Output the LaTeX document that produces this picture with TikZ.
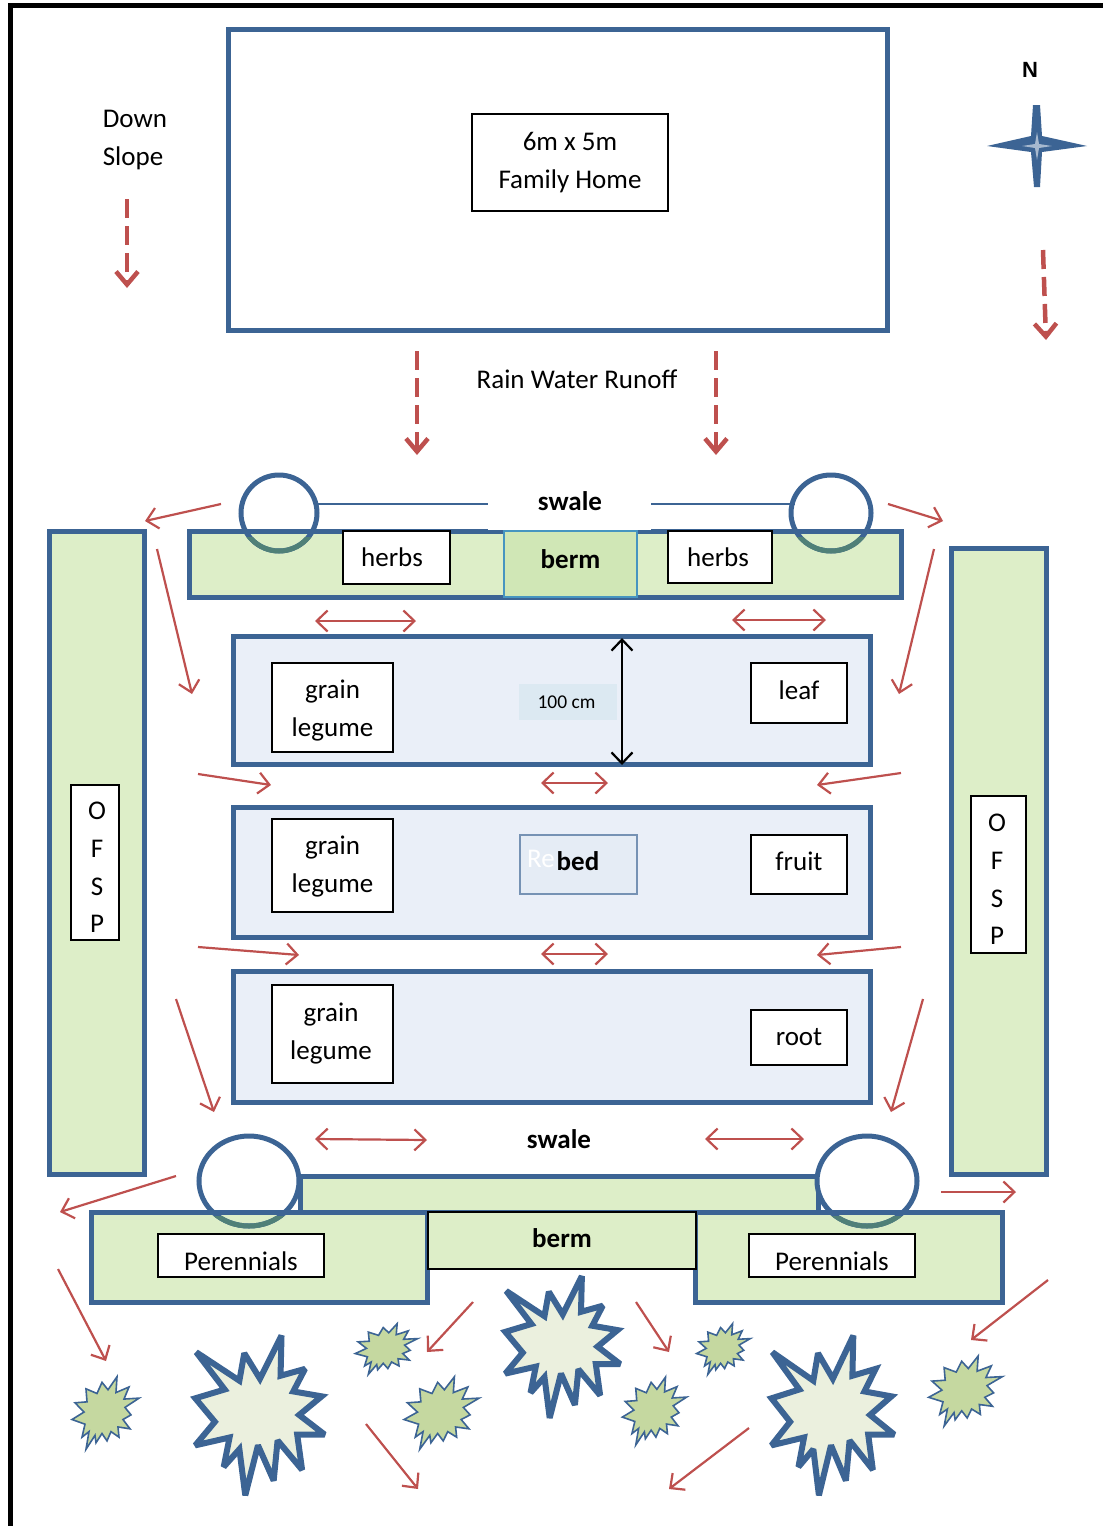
\documentclass[tikz,border=0pt]{standalone}
\usepackage{fontspec}
\setmainfont{Carlito}
\newfontfamily\arialfont{Liberation Sans}
\usepackage{xcolor}
\usetikzlibrary{arrows.meta, positioning}
\definecolor{planblue}{RGB}{60,100,148}
\definecolor{planred}{RGB}{190,80,78}
\definecolor{bermgreen}{RGB}{221,238,200}
\definecolor{midgreen}{RGB}{208,231,182}
\definecolor{bedfill}{RGB}{234,239,248}
\definecolor{tagfill}{RGB}{229,236,245}
\definecolor{widthfill}{RGB}{220,233,242}
\definecolor{shrubfill}{RGB}{197,216,160}
\definecolor{treefill}{RGB}{235,240,222}
\definecolor{wetgreen}{RGB}{80,128,120}
\tikzstyle{plotbox}  = [rectangle, draw=planblue, line width=5pt, inner sep=0pt]
\tikzstyle{bermbox}  = [plotbox, fill=bermgreen]
\tikzstyle{bedbox}   = [plotbox, fill=bedfill, minimum width=637pt]
\tikzstyle{labelbox} = [rectangle, draw=black, line width=1.5pt, fill=white, inner sep=0pt, align=center,
                        font=\fontsize{27}{37.5}\selectfont]
\tikzstyle{plain}    = [inner sep=0pt, align=center, font=\fontsize{27}{38}\selectfont]
\tikzstyle{boldtext} = [inner sep=0pt, font=\fontsize{27}{30}\selectfont\bfseries]
\tikzstyle{flowarrow}   = [planred, line width=2.2pt, -{Straight Barb[length=11pt,width=21pt]}]
\tikzstyle{spreadarrow} = [planred, line width=2.2pt, {Straight Barb[length=11pt,width=21pt]}-{Straight Barb[length=11pt,width=21pt]}]
\tikzstyle{slopearrow}  = [planred, line width=4.5pt, dash pattern=on 19pt off 8pt, -{Straight Barb[length=13pt,width=22pt]}]
\tikzstyle{pond}     = [planblue, line width=5pt]
\tikzset{
  tree/.pic={
    \draw[planblue, line width=6pt, fill=treefill, line join=miter, miter limit=2.5]
      (-63,-61)--(-19,-32)--(-14,-60)--(2,-34)--(24,-78)--(23,-37)--(48,-44)--(36,-21)--(65,-16)--(42,3)
      --(68,23)--(40,23)--(45,59)--(20,29)--(16,70)--(0,34)--(-13,85)--(-19,38)--(-35,56)--(-29,26)
      --(-64,34)--(-44,10)--(-64,-14)--(-34,-23)--cycle;
  },
  shrub/.pic={
    \draw[planblue, line width=1.6pt, fill=shrubfill]
      (-19,-26)--(-8,-21)--(-3,-33)--(3,-25)--(12,-39)--(11,-22)--(24,-28)--(19,-15)--(34,-16)--(20,-6)
      --(26,2)--(18,7)--(25,17)--(13,15)--(14,26)--(6,20)--(2,30)--(-3,22)--(-9,32)--(-10,24)--(-19,39)
      --(-16,20)--(-23,26)--(-20,12)--(-33,7)--(-21,-1)--(-30,-11)--(-18,-12)--cycle;
  }
}

\begin{document}
\begin{tikzpicture}[x=1pt, y=-1pt]
    \useasboundingbox (0,0) rectangle (1103,1526);
    % outer frame
    \draw[black, line width=5pt] (10,1526)--(10,5.5)--(1103,5.5);

    % house
    \node (plot) [plotbox, minimum width=659pt, minimum height=301pt] at (557.5,180) {};
    \node (home) [labelbox, minimum width=196pt, minimum height=97pt] at (570,162.5) {6m x 5m\\Family Home};
    \node (slope) [plain] at (134,140) {\hspace{2pt}Down\\\hspace{-2pt}Slope};
    \node (north) [inner sep=0pt, font=\fontsize{22}{26}\selectfont\arialfont\bfseries] at (1030,70) {N};
    \fill[planblue] (1033,105)--(1040,105)--(1042,136)--(1087,146)--(1042,152)--(1040,187)--(1034,187)
      --(1031,152)--(987,146)--(1031,136)--cycle;
    \fill[planblue!45!white] (1037,132)--(1039,144)--(1052,146)--(1039,148)--(1037,160)--(1035,148)
      --(1022,146)--(1035,144)--cycle;
    \node (runoff) [plain] at (577,379) {Rain Water Runoff};
    \draw[slopearrow] (127,199)--(127,288);
    \draw[slopearrow] (1043,250)--(1046,340);
    \draw[slopearrow] (417,351)--(417,455);
    \draw[slopearrow] (716,351)--(716,455);

    % top swale and berm
    \node (topberm) [bermbox, minimum width=712pt, minimum height=66pt] at (545.5,564.5) {};
    \fill[white] (488,526)--(651,526)--(651,530)--(488,530)--cycle;
    \draw[planblue, line width=2.2pt] (316,504)--(488,504);
    \draw[planblue, line width=2.2pt] (651,504)--(795,504);
    \node (topswale) [boldtext] at (570,501) {swale};
    \node (midberm) [rectangle, draw=cyan!50!planblue, line width=2.5pt, fill=midgreen, inner sep=0pt,
      minimum width=133pt, minimum height=66pt, font=\fontsize{27}{30}\selectfont\bfseries] at (570.5,564) {\raisebox{9pt}{berm}};
    \node (herbsa) [labelbox, minimum width=107pt, minimum height=53pt] at (396.5,557.5) {\hspace{-9pt}herbs};
    \node (herbsb) [labelbox, minimum width=104pt, minimum height=52pt] at (720,557) {\hspace{-4pt}herbs};
    \draw[pond] (279,513) circle [x radius=38, y radius=38];
    \draw[pond] (831,513) circle [x radius=40, y radius=38];
    \begin{scope}
      \clip (200,537) rectangle (900,560);
      \draw[wetgreen, line width=5pt] (279,513) circle [x radius=38, y radius=38];
      \draw[wetgreen, line width=5pt] (831,513) circle [x radius=40, y radius=38];
    \end{scope}

    % side strips
    \node (ofspa) [bermbox, minimum width=95pt, minimum height=643pt] at (96.5,853) {};
    \node (ofspb) [bermbox, minimum width=95pt, minimum height=626pt] at (998.5,861.5) {};
    \node (ofsplabela) [labelbox, minimum width=48pt, minimum height=155pt] at (95,862.5) {};
    \node (ofsplabelb) [labelbox, minimum width=55pt, minimum height=157pt] at (998.5,874.5) {};
    \node (ofsptexta) [plain, font=\fontsize{27}{37.7}\selectfont] at (97,867.5) {O\\F\\S\\P};
    \node (ofsptextb) [plain, font=\fontsize{27}{37.7}\selectfont] at (997,879.5) {O\\F\\S\\P};

    % beds
    \node (beda) [bedbox, minimum height=128pt] at (551.5,700.5) {};
    \node (bedb) [bedbox, minimum height=130pt, below of=beda, node distance=172pt] {};
    \node (bedc) [bedbox, minimum height=131pt, below of=bedb, node distance=164.5pt] {};
    \node (grainaa) [labelbox, minimum width=121pt, minimum height=89pt] at (332.5,707.5) {};
    \node (graintexta) [plain] at (332.5,711) {grain\\legume};
    \node (grainb) [labelbox, minimum width=121pt, minimum height=93pt] at (332.5,865.5) {};
    \node (graintextb) [plain] at (332.5,866.5) {grain\\legume};
    \node (grainc) [labelbox, minimum width=121pt, minimum height=98pt] at (332.5,1034) {};
    \node (graintextc) [plain] at (331,1034) {grain\hspace{28pt}\\legume};
    \node (leaf) [labelbox, minimum width=96pt, minimum height=60pt] at (799,693) {\raisebox{6pt}{leaf}};
    \node (fruit) [labelbox, minimum width=96pt, minimum height=59pt] at (799,864.5) {\raisebox{6pt}{fruit}};
    \node (root) [labelbox, minimum width=96pt, minimum height=55pt] at (799,1037.5) {\raisebox{-2pt}{root}};
    \node (width) [rectangle, fill=widthfill, inner sep=0pt, minimum width=98pt, minimum height=36pt,
      font=\fontsize{19.5}{22}\selectfont] at (568,702) {\raisebox{-9pt}{\hspace{-3pt}100 cm}};
    \coordinate (widtha) at (622,638);
    \coordinate (widthb) at (622,765);
    \draw[black, line width=2.2pt, {Straight Barb[length=11pt,width=21pt]}-{Straight Barb[length=11pt,width=21pt]}] (widtha)--(widthb);
    \node (bedtag) [rectangle, draw=planblue!70!white, line width=1.5pt, fill=tagfill,
      minimum width=117pt, minimum height=59pt] at (578.5,864.5) {};
    \node (bedghost) [inner sep=0pt, text=white, font=\fontsize{27}{30}\selectfont] at (541,859) {Re};
    \node (bedtext) [boldtext] at (578,861) {bed};

    % bottom swale and berm
    \node (lowswale) [boldtext] at (559,1139) {swale};
    \node (lowbar) [bermbox, minimum width=518pt, minimum height=36pt] at (559,1194) {};
    \fill[white] (249,1181) circle [x radius=50, y radius=45];
    \fill[white] (867,1181) circle [x radius=50, y radius=45];
    \node (perea) [bermbox, minimum width=336pt, minimum height=90pt] at (259.5,1257.5) {};
    \node (pereb) [bermbox, minimum width=307pt, minimum height=90pt] at (849,1257.5) {};
    \node (lowberm) [rectangle, draw=black, line width=1.5pt, fill=bermgreen, inner sep=0pt,
      minimum width=268pt, minimum height=57pt, font=\fontsize{27}{30}\selectfont\bfseries] at (562,1240.5) {\raisebox{5pt}{berm}};
    \node (perelabela) [labelbox, minimum width=166pt, minimum height=43pt] at (241,1255.5) {};
    \node (perelabelb) [labelbox, minimum width=166pt, minimum height=43pt] at (832,1255.5) {};
    \node (peretexta) [plain] at (241,1261) {Perennials};
    \node (peretextb) [plain] at (832,1261) {Perennials};
    \draw[pond] (249,1181) circle [x radius=50, y radius=45];
    \draw[pond] (867,1181) circle [x radius=50, y radius=45];
    \begin{scope}
      \clip (190,1216) rectangle (930,1235);
      \draw[wetgreen, line width=5pt] (249,1181) circle [x radius=50, y radius=45];
      \draw[wetgreen, line width=5pt] (867,1181) circle [x radius=50, y radius=45];
    \end{scope}

    % water flow
    \draw[flowarrow] (221,504)--(145,521);
    \draw[flowarrow] (888,504)--(943,521);
    \draw[flowarrow] (157,549)--(192,694);
    \draw[flowarrow] (934,549)--(899,694);
    \draw[spreadarrow] (315,621)--(416,621);
    \draw[spreadarrow] (732,620)--(826,620);
    \draw[flowarrow] (198,774)--(271,785);
    \draw[flowarrow] (901,773)--(817,785);
    \draw[spreadarrow] (541,783)--(608,783);
    \draw[flowarrow] (198,947)--(299,955);
    \draw[flowarrow] (901,947)--(817,955);
    \draw[spreadarrow] (541,954)--(608,954);
    \draw[flowarrow] (176,999)--(214,1112);
    \draw[flowarrow] (923,999)--(891,1112);
    \draw[spreadarrow] (315,1139)--(427,1140);
    \draw[spreadarrow] (705,1139)--(804,1139);
    \draw[flowarrow] (176,1176)--(60,1212);
    \draw[flowarrow] (941,1192)--(1016,1192);
    \draw[flowarrow] (58,1269)--(106,1361);
    \draw[flowarrow] (473,1302)--(427,1352);
    \draw[flowarrow] (636,1302)--(669,1352);
    \draw[flowarrow] (1048,1280)--(971,1340);
    \draw[flowarrow] (366,1424)--(418,1489);
    \draw[flowarrow] (749,1428)--(669,1489);

    % planting
    \pic[scale=0.98] at (258,1412) {tree};
    \pic[xscale=0.93, yscale=0.98] at (831,1412) {tree};
    \pic[scale=0.87] at (561,1344) {tree};
    \pic[xscale=1, yscale=0.93] at (105,1413) {shrub};
    \pic[xscale=0.93, yscale=0.65] at (386,1349) {shrub};
    \pic[xscale=1.12, yscale=0.93] at (441,1413) {shrub};
    \pic[xscale=0.96, yscale=0.87] at (654,1411) {shrub};
    \pic[xscale=0.8, yscale=0.65] at (723,1349) {shrub};
    \pic[xscale=1.1, yscale=0.9] at (965,1391) {shrub};
\end{tikzpicture}
\end{document}
